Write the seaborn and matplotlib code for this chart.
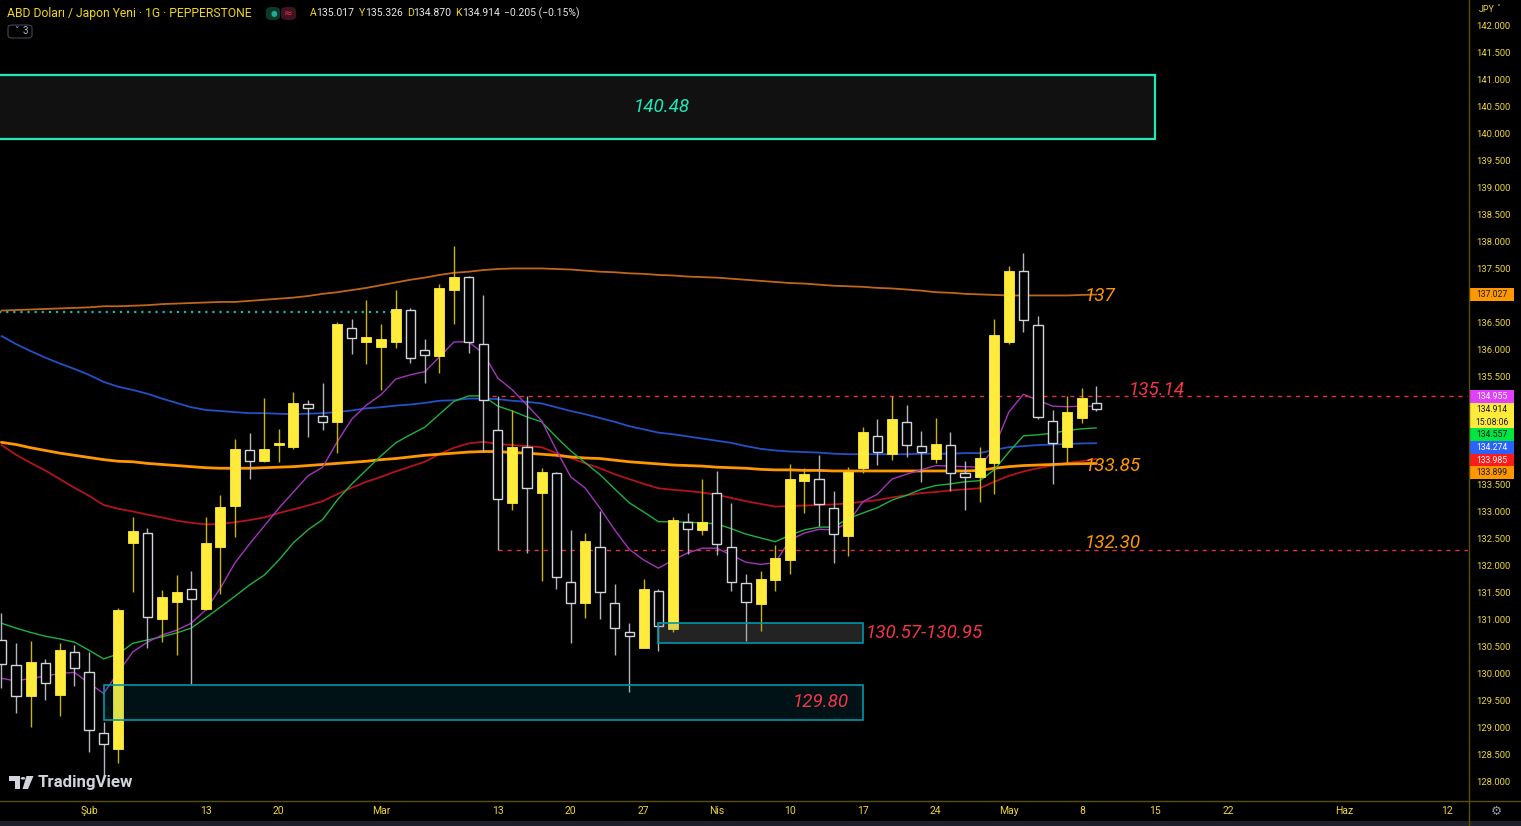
import numpy as np
import pandas as pd
import matplotlib
matplotlib.use("Agg")
import matplotlib.pyplot as plt
from matplotlib.patches import Rectangle, FancyBboxPatch, Circle, Polygon
from matplotlib.lines import Line2D
import seaborn as sns

# ---------------- data: USD/JPY daily, Pepperstone ----------------
dates = pd.bdate_range("2023-01-24", "2023-05-09")

opens = [130.63, 130.17, 129.60, 130.20, 129.62, 130.41, 130.04, 128.91, 128.62, 132.42,
         132.62, 131.02, 131.33, 131.57, 131.20, 132.36, 133.11, 134.14, 133.94, 134.24,
         134.21, 135.00, 134.78, 134.66, 136.40, 136.14, 136.06, 136.14, 136.74, 136.00,
         135.88, 137.12, 137.35, 136.12, 134.52, 133.16, 134.20, 133.35, 133.73, 131.71,
         131.31, 132.36, 131.32, 130.77, 130.49, 131.54, 130.83, 132.82, 132.67, 133.36,
         132.36, 131.69, 131.29, 131.74, 132.11, 133.57, 133.62, 133.08, 132.56, 133.81,
         134.41, 134.07, 134.67, 134.22, 133.98, 134.25, 133.72, 133.65, 133.91, 136.15,
         137.47, 136.46, 134.68, 134.20, 134.74, 135.017]
highs = [131.13, 130.58, 130.62, 130.27, 130.57, 130.53, 130.41, 129.12, 131.22, 132.91,
         132.70, 131.56, 131.83, 131.91, 132.90, 133.31, 134.35, 134.47, 135.11, 134.53,
         135.23, 135.07, 135.38, 136.52, 136.57, 136.93, 136.48, 137.11, 136.77, 136.20,
         137.22, 137.93, 137.37, 137.02, 135.14, 134.89, 135.14, 133.82, 133.75, 132.67,
         132.62, 133.01, 131.66, 130.94, 131.76, 131.57, 132.90, 132.98, 133.61, 133.76,
         133.17, 131.86, 131.91, 132.38, 133.88, 133.81, 134.06, 133.39, 133.84, 134.58,
         134.72, 135.15, 134.98, 134.50, 134.75, 134.48, 133.95, 134.20, 136.57, 137.56,
         137.79, 136.63, 134.89, 135.14, 135.30, 135.326]
lows = [129.74, 129.28, 129.02, 129.52, 129.22, 129.77, 128.56, 128.13, 128.35, 131.52,
        130.48, 130.60, 130.35, 129.81, 131.18, 131.48, 132.54, 133.62, 133.93, 133.93,
        134.16, 134.38, 134.51, 134.09, 135.93, 135.75, 135.26, 136.03, 135.76, 135.38,
        135.57, 136.49, 135.95, 134.12, 132.30, 133.04, 132.24, 131.73, 131.57, 130.57,
        131.04, 131.02, 130.35, 129.67, 130.48, 130.43, 130.77, 132.22, 132.57, 132.20,
        131.54, 130.61, 130.80, 131.54, 131.85, 132.99, 132.74, 132.05, 132.19, 133.73,
        133.87, 133.96, 134.02, 133.56, 133.90, 133.39, 133.04, 133.19, 133.33, 136.12,
        136.34, 134.73, 133.52, 133.90, 134.65, 134.870]
closes = [130.19, 129.59, 130.22, 129.83, 130.44, 130.11, 128.96, 128.70, 131.19, 132.64,
          131.06, 131.43, 131.51, 131.38, 132.42, 133.10, 134.17, 133.95, 134.17, 134.28,
          135.02, 134.92, 134.67, 136.48, 136.22, 136.24, 136.20, 136.76, 135.85, 135.91,
          137.15, 137.35, 136.15, 135.07, 133.25, 134.20, 133.44, 133.74, 131.79, 131.31,
          132.46, 131.51, 130.86, 130.70, 131.57, 130.89, 132.86, 132.68, 132.82, 132.40,
          131.71, 131.34, 131.76, 132.14, 133.61, 133.70, 133.14, 132.59, 133.74, 134.48,
          134.11, 134.72, 134.24, 134.12, 134.26, 133.73, 133.65, 134.00, 136.28, 137.47,
          136.56, 134.76, 134.28, 134.86, 135.12, 134.914]

# moving averages
ma_purple = [129.92, 129.87, 129.92, 129.96, 130.01, 130.03, 129.83, 129.64, 130.03, 130.41,
             130.59, 130.72, 130.81, 130.94, 131.19, 131.59, 132.06, 132.41, 132.74, 133.07,
             133.37, 133.67, 133.83, 134.30, 134.72, 134.98, 135.17, 135.46, 135.54, 135.60,
             135.87, 136.15, 136.15, 135.94, 135.48, 135.26, 134.98, 134.69, 134.15, 133.65,
             133.44, 133.07, 132.67, 132.31, 132.11, 131.96, 132.11, 132.24, 132.33, 132.33,
             132.20, 132.07, 132.03, 132.06, 132.48, 132.61, 132.68, 132.67, 132.80, 133.19,
             133.33, 133.61, 133.70, 133.78, 133.86, 133.85, 133.84, 133.83, 134.19, 134.85,
             135.18, 135.07, 134.96, 134.95, 134.96, 134.955]
ma_green = [130.94, 130.85, 130.77, 130.70, 130.65, 130.59, 130.44, 130.28, 130.37, 130.57,
            130.63, 130.69, 130.76, 130.85, 131.04, 131.24, 131.44, 131.65, 131.83, 132.11,
            132.43, 132.67, 132.86, 133.22, 133.52, 133.78, 134.04, 134.28, 134.43, 134.57,
            134.81, 135.05, 135.15, 135.15, 134.96, 134.87, 134.76, 134.67, 134.39, 134.13,
            133.91, 133.69, 133.43, 133.17, 133.00, 132.82, 132.82, 132.81, 132.80, 132.78,
            132.69, 132.59, 132.52, 132.45, 132.57, 132.67, 132.72, 132.72, 132.88, 132.98,
            133.08, 133.22, 133.31, 133.42, 133.49, 133.52, 133.56, 133.58, 133.78, 134.11,
            134.41, 134.43, 134.46, 134.51, 134.54, 134.557]
ma_blue = [136.26, 136.11, 135.98, 135.86, 135.75, 135.65, 135.54, 135.41, 135.32, 135.26,
           135.19, 135.10, 135.02, 134.94, 134.89, 134.87, 134.85, 134.83, 134.83, 134.82,
           134.81, 134.82, 134.83, 134.85, 134.88, 134.92, 134.94, 134.97, 134.99, 135.02,
           135.06, 135.07, 135.10, 135.10, 135.09, 135.06, 135.04, 135.01, 134.94, 134.87,
           134.81, 134.74, 134.67, 134.59, 134.53, 134.47, 134.44, 134.40, 134.36, 134.32,
           134.28, 134.22, 134.17, 134.14, 134.12, 134.11, 134.10, 134.08, 134.07, 134.07,
           134.07, 134.07, 134.07, 134.08, 134.08, 134.08, 134.09, 134.09, 134.15, 134.20,
           134.22, 134.24, 134.25, 134.26, 134.27, 134.274]
ma_red = [134.24, 134.06, 133.91, 133.77, 133.61, 133.45, 133.30, 133.13, 133.06, 133.01,
          132.95, 132.90, 132.84, 132.80, 132.77, 132.78, 132.81, 132.85, 132.90, 132.98,
          133.05, 133.12, 133.20, 133.33, 133.45, 133.56, 133.65, 133.75, 133.84, 133.93,
          134.07, 134.19, 134.27, 134.30, 134.26, 134.24, 134.22, 134.20, 134.09, 134.00,
          133.90, 133.81, 133.70, 133.61, 133.52, 133.44, 133.41, 133.39, 133.36, 133.32,
          133.26, 133.20, 133.15, 133.10, 133.11, 133.12, 133.13, 133.14, 133.16, 133.19,
          133.22, 133.27, 133.31, 133.35, 133.37, 133.40, 133.42, 133.44, 133.56, 133.67,
          133.75, 133.81, 133.86, 133.91, 133.94, 133.985]
ma_orange = [134.29, 134.25, 134.19, 134.14, 134.09, 134.05, 134.01, 133.97, 133.94, 133.93,
             133.90, 133.88, 133.86, 133.84, 133.82, 133.81, 133.81, 133.81, 133.82, 133.83,
             133.84, 133.86, 133.88, 133.90, 133.92, 133.94, 133.97, 133.99, 134.02, 134.05,
             134.07, 134.09, 134.11, 134.12, 134.12, 134.10, 134.09, 134.07, 134.05, 134.02,
             134.00, 133.99, 133.96, 133.93, 133.91, 133.89, 133.87, 133.86, 133.85, 133.83,
             133.82, 133.81, 133.79, 133.78, 133.78, 133.77, 133.77, 133.76, 133.76, 133.76,
             133.76, 133.76, 133.76, 133.76, 133.76, 133.76, 133.76, 133.77, 133.81, 133.84,
             133.86, 133.87, 133.88, 133.89, 133.895, 133.899]
ma_brown = [136.73, 136.74, 136.75, 136.76, 136.77, 136.78, 136.79, 136.81, 136.81, 136.82,
            136.83, 136.85, 136.86, 136.87, 136.88, 136.89, 136.89, 136.91, 136.93, 136.95,
            136.97, 137.00, 137.04, 137.07, 137.11, 137.15, 137.20, 137.25, 137.30, 137.34,
            137.39, 137.43, 137.45, 137.48, 137.50, 137.51, 137.51, 137.51, 137.50, 137.49,
            137.47, 137.45, 137.44, 137.42, 137.41, 137.39, 137.38, 137.36, 137.35, 137.34,
            137.32, 137.30, 137.28, 137.26, 137.24, 137.23, 137.21, 137.19, 137.18, 137.17,
            137.15, 137.14, 137.12, 137.10, 137.07, 137.06, 137.04, 137.03, 137.02, 137.01,
            137.01, 137.01, 137.01, 137.01, 137.02, 137.027]

# x-axis ticks (dates) and labels
tick_dates = ["2023-02-01", "2023-02-13", "2023-02-20", "2023-03-01", "2023-03-13",
              "2023-03-20", "2023-03-27", "2023-04-03", "2023-04-10", "2023-04-17",
              "2023-04-24", "2023-05-01", "2023-05-08", "2023-05-15", "2023-05-22",
              "2023-06-01", "2023-06-12"]
tick_labels = ["Şub", "13", "20", "Mar", "13", "20", "27", "Nis", "10", "17", "24",
               "May", "8", "15", "22", "Haz", "12"]
price_ticks = [128.0 + 0.5 * k for k in range(29)]

# drawn zones: (start date, end date, low, high, label)
zone_top = ("2023-01-20", "2023-05-15", 139.91, 141.09, "140.48")
zone_mid = ("2023-03-28", "2023-04-17", 130.57, 130.95, "130.57-130.95")
zone_low = ("2023-02-02", "2023-04-17", 129.15, 129.80, "129.80")
# horizontal levels: (start date, price, label)
level_res = ("2023-03-10", 135.14, "135.14")
level_sup = ("2023-03-13", 132.30, "132.30")
level_dotted = ("2023-03-02", 136.71)
level_137 = 137.0
level_13385 = 133.85

# last-value tags on the price scale
tag_values = [137.027, 134.955, 134.914, 134.557, 134.274, 133.985, 133.899]
tag_texts = [["137.027"], ["134.955"], ["134.914", "15:08:06"], ["134.557"],
             ["134.274"], ["133.985"], ["133.899"]]
ohlc_header = {"A": "135.017", "Y": "135.326", "D": "134.870", "K": "134.914"}
change_text = "−0.205 (−0.15%)"

# ---------------- style ----------------
sns.set_theme(style="dark")
plt.rcParams["font.family"] = ["Roboto", "DejaVu Sans"]
plt.rcParams["axes.unicode_minus"] = True

W, H = 1521, 826
YTOP, YBOT = 142.4815, 127.6667
BG = "black"
AXIS_TXT = "#EED53A"
AXIS_LINE = "#5a5000"
UP, UP_WICK = "#FFEB3B", "#C9B400"
DN_EDGE, DN_WICK = "#D1D4DC", "#B2B5BE"
RED_TXT, ORG_TXT = "#F23645", "#FF9800"
LBL_SIZE = 13.6

fig = plt.figure(figsize=(W / 100, H / 100), dpi=100, facecolor=BG)
ax = fig.add_axes([0, 26 / H, 1468 / W, 800 / H])
ax.set_facecolor(BG)

all_days = pd.bdate_range("2023-01-02", "2023-06-30")
base = all_days.get_loc(dates[0])


def bar_pos(d):
    return all_days.get_loc(pd.Timestamp(d)) - base


idx = np.arange(len(dates))
o, h, l, c = map(np.asarray, (opens, highs, lows, closes))

# moving averages
for vals, col, lw in [(ma_brown, "#C0661A", 1.3), (ma_blue, "#2450C8", 1.3),
                      (ma_red, "#B3141C", 1.3), (ma_orange, "#FF9800", 2.0),
                      (ma_green, "#1FB23F", 1.0), (ma_purple, "#A335BE", 1.0)]:
    sns.lineplot(x=idx, y=vals, ax=ax, color=col, linewidth=lw, legend=False, zorder=2)

# candles
up = c >= o
body_lo = np.minimum(o, c)
body_h = np.maximum(np.abs(c - o), 0.025)
ax.vlines(idx[up], l[up], h[up], color=UP_WICK, lw=1.0, zorder=3)
ax.vlines(idx[~up], l[~up], h[~up], color=DN_WICK, lw=1.0, zorder=3)
ax.bar(idx[up], body_h[up], bottom=body_lo[up], width=0.68, color=UP,
       edgecolor=UP, linewidth=0.6, zorder=4)
ax.bar(idx[~up], body_h[~up], bottom=body_lo[~up], width=0.62, color=BG,
       edgecolor=DN_EDGE, linewidth=1.0, zorder=4)

# zones
x0 = bar_pos(zone_top[0]); x1 = bar_pos(zone_top[1])
ax.add_patch(Rectangle((x0, zone_top[2]), x1 - x0, zone_top[3] - zone_top[2],
                       facecolor="#111111", edgecolor="#1DE9B6", lw=1.6, zorder=5))
ax.text(bar_pos("2023-03-28") + 0.2, (zone_top[2] + zone_top[3]) / 2, zone_top[4],
        color="#1DE9B6", fontsize=LBL_SIZE, style="italic", ha="center", va="center",
        zorder=6)

x0 = bar_pos(zone_low[0]); x1 = bar_pos(zone_low[1])
ax.add_patch(Rectangle((x0, zone_low[2]), x1 - x0, zone_low[3] - zone_low[2],
                       facecolor=(0.0, 0.6, 0.68, 0.12), edgecolor="#0097A7", lw=1.2, zorder=5))
ax.text(x1 - 0.95, (zone_low[2] + zone_low[3]) / 2, zone_low[4], color=RED_TXT,
        fontsize=LBL_SIZE, style="italic", ha="right", va="center", zorder=6)

x0 = bar_pos(zone_mid[0]); x1 = bar_pos(zone_mid[1])
ax.add_patch(Rectangle((x0, zone_mid[2]), x1 - x0, zone_mid[3] - zone_mid[2],
                       facecolor=(0.55, 0.55, 0.55, 0.25), edgecolor="#0097A7", lw=1.2, zorder=5))
ax.text(x1 + 0.2, (zone_mid[2] + zone_mid[3]) / 2, zone_mid[4], color=RED_TXT,
        fontsize=LBL_SIZE, style="italic", ha="left", va="center", zorder=6)

# horizontal levels
XR = 100.45
for start, price, lab in [level_res, level_sup]:
    ax.hlines(price, bar_pos(start), XR, colors="#E5323E", lw=1.0,
              linestyles=(0, (3, 3.5)), zorder=2.5)
ax.hlines(level_dotted[1], -0.2, bar_pos(level_dotted[0]), colors="#1FB5AC",
          lw=1.6, linestyles=(0, (1, 2.2)), zorder=2.5)

lab_x = bar_pos("2023-05-08") + 0.2
ax.text(bar_pos("2023-05-11") + 0.2, level_res[1] + 0.03, level_res[2], color=RED_TXT,
        fontsize=LBL_SIZE, style="italic", ha="left", va="baseline", zorder=6)
ax.text(lab_x, level_sup[1] + 0.03, level_sup[2], color=ORG_TXT,
        fontsize=LBL_SIZE, style="italic", ha="left", va="baseline", zorder=6)
ax.text(lab_x, level_137, "137", color=ORG_TXT, fontsize=LBL_SIZE, style="italic",
        ha="left", va="center", zorder=6)
ax.text(lab_x, level_13385, "133.85", color=ORG_TXT, fontsize=LBL_SIZE, style="italic",
        ha="left", va="center", zorder=6)

ax.set_ylim(YBOT, YTOP)
ax.set_xlim(-0.096, XR)
ax.set_xticks([bar_pos(d) for d in tick_dates])
ax.set_xticklabels(tick_labels, color=AXIS_TXT, fontsize=7.5)
ax.tick_params(axis="x", length=0, pad=4.5)
ax.set_yticks([])
ax.set_xlabel(""); ax.set_ylabel("")
for s in ax.spines.values():
    s.set_visible(False)
ax.grid(False)

# ---------------- price scale ----------------
axr = fig.add_axes([1468 / W, 26 / H, 53 / W, 800 / H])
axr.set_facecolor(BG)
axr.set_xlim(0, 1); axr.set_ylim(YBOT, YTOP)
axr.set_xticks([]); axr.set_yticks([])
for s in axr.spines.values():
    s.set_visible(False)

tag_style = {
    "137.027": ("#FF9800", "#131722"), "134.955": ("#E040FB", "white"),
    "134.914": ("#FFEB3B", "#131722"), "134.557": ("#00E640", "#131722"),
    "134.274": ("#2962FF", "white"), "133.985": ("#FF1A1A", "white"),
    "133.899": ("#FF9800", "#131722"),
}
px_per_price = 800 / (YTOP - YBOT)
tag_h = 12.7 / px_per_price
order = sorted(range(len(tag_values)), key=lambda k: -tag_values[k])
groups = [[k] for k in order]


def g_h(g):
    return sum(tag_h * len(tag_texts[k]) for k in g)


def g_c(g):
    return float(np.mean([tag_values[k] for k in g]))


merged = True
while merged:
    merged = False
    for j in range(len(groups) - 1):
        a, b = groups[j], groups[j + 1]
        if g_c(a) - g_h(a) / 2 < g_c(b) + g_h(b) / 2:
            groups[j] = a + b
            del groups[j + 1]
            merged = True
            break

covered = []
for g in groups:
    top = g_c(g) + g_h(g) / 2
    for k in g:
        lines = tag_texts[k]
        bg, fg = tag_style[lines[0]]
        hh = tag_h * len(lines)
        axr.add_patch(Rectangle((0.04, top - hh), 0.83, hh, facecolor=bg,
                                edgecolor="none", zorder=3))
        for j, t in enumerate(lines):
            axr.text(0.455, top - tag_h * (j + 0.5), t, color=fg, fontsize=6.2,
                     ha="center", va="center", zorder=4)
        covered.append((top - hh, top))
        top -= hh

# scale labels, hidden where a tag sits on top of them
half_txt = 4.5 / px_per_price
for p in price_ticks:
    if any(lo - half_txt < p < hi + half_txt for lo, hi in covered):
        continue
    axr.text(0.48, p, f"{p:.3f}", color=AXIS_TXT, fontsize=6.8, ha="center",
             va="center", zorder=2)


# ---------------- frame lines & header ----------------
def fx(x):
    return x / W


def fy(y):
    return 1 - y / H


fig.add_artist(Line2D([0, 1], [fy(800.5), fy(800.5)], color=AXIS_LINE, lw=1.0))
fig.add_artist(Line2D([fx(1468.5), fx(1468.5)], [0, 1], color=AXIS_LINE, lw=1.0))
fig.add_artist(Rectangle((0, 0), 1, 5 / H, transform=fig.transFigure,
                         facecolor="#1E2029", edgecolor="none"))
fig.text(fx(1496), fy(811), "⚙", color="#9598A1", fontsize=9, ha="center",
         va="center", family="DejaVu Sans")
fig.text(fx(1479), fy(9), "JPY", color=AXIS_TXT, fontsize=6.5, ha="left", va="center")
fig.text(fx(1496), fy(8), "˅", color=AXIS_TXT, fontsize=5.5, ha="left", va="center",
         family="DejaVu Sans")

renderer = fig.canvas.get_renderer()
YEL_HDR, WHT_HDR = "#F2D71A", "#E6E6E6"
fig.text(fx(7), fy(13), "ABD Doları / Japon Yeni · 1G · PEPPERSTONE",
         color=YEL_HDR, fontsize=8.7, ha="left", va="center")

# status badge
fig.add_artist(FancyBboxPatch((fx(266), fy(20)), fx(14), 13 / H,
                              boxstyle="round,pad=0,rounding_size=0.004",
                              transform=fig.transFigure, facecolor="#0B3A2C",
                              edgecolor="none"))
fig.add_artist(FancyBboxPatch((fx(281), fy(20)), fx(15), 13 / H,
                              boxstyle="round,pad=0,rounding_size=0.004",
                              transform=fig.transFigure, facecolor="#3E1322",
                              edgecolor="none"))
fig.text(fx(274), fy(13.5), "●", color="#22AB94", fontsize=5.5, ha="center",
         va="center", family="DejaVu Sans")
fig.text(fx(288.5), fy(13.5), "≈", color="#F23645", fontsize=7.5, ha="center",
         va="center", family="DejaVu Sans")

xcur = 310
for key, val in ohlc_header.items():
    for s, col in [(key, YEL_HDR), (val, WHT_HDR)]:
        tt = fig.text(fx(xcur), fy(13), s, color=col, fontsize=7.5, ha="left", va="center")
        xcur += tt.get_window_extent(renderer).width
    xcur += 4
fig.text(fx(xcur), fy(13), change_text, color=WHT_HDR, fontsize=7.5, ha="left", va="center")

# interval toggle
fig.add_artist(FancyBboxPatch((fx(8), fy(38)), fx(24), 13 / H,
                              boxstyle="round,pad=0,rounding_size=0.003",
                              transform=fig.transFigure, facecolor="none",
                              edgecolor="#434651", lw=0.8))
fig.text(fx(16), fy(31), "˅", color="#B2B5BE", fontsize=6.5, ha="center", va="center",
         family="DejaVu Sans")
fig.text(fx(25), fy(31.5), "3", color="#B2B5BE", fontsize=7, ha="center", va="center")

# TradingView watermark
LOGO = "#D1D4DC"
fig.add_artist(Polygon([(fx(9), fy(776)), (fx(19.5), fy(776)), (fx(19.5), fy(789)),
                        (fx(15), fy(789)), (fx(15), fy(780.5)), (fx(9), fy(780.5))],
                       closed=True, transform=fig.transFigure, facecolor=LOGO,
                       edgecolor="none"))
fig.add_artist(Circle((fx(23), fy(778.3)), 2.3 / W, transform=fig.transFigure,
                      facecolor=LOGO, edgecolor="none"))
fig.add_artist(Polygon([(fx(26.5), fy(776)), (fx(33.5), fy(776)), (fx(28), fy(789)),
                        (fx(22.5), fy(789))], closed=True, transform=fig.transFigure,
                       facecolor=LOGO, edgecolor="none"))
fig.text(fx(38), fy(783), "TradingView", color=LOGO, fontsize=12.2, fontweight="bold",
         ha="left", va="center")

fig.savefig("out.png", dpi=100, facecolor=BG)
